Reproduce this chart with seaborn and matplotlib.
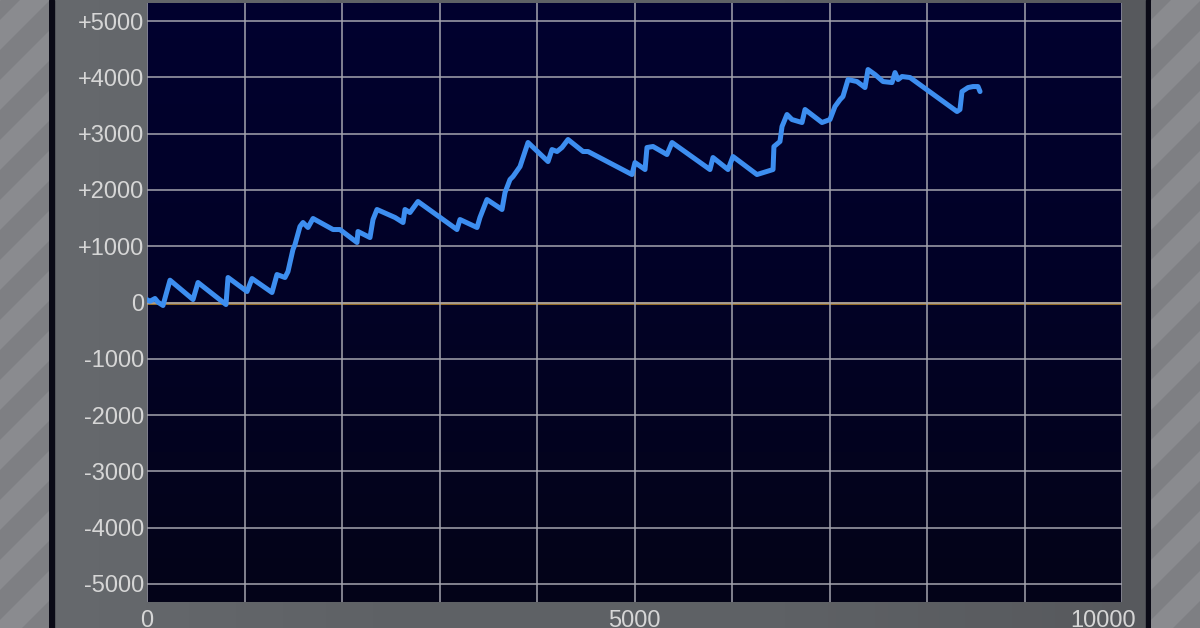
import numpy as np
import pandas as pd
import matplotlib.pyplot as plt
import seaborn as sns
from matplotlib.patches import Rectangle, Polygon
from matplotlib.colors import LinearSegmentedColormap
from matplotlib.transforms import ScaledTranslation

# data
step_x = [0, 31, 82, 113, 164, 195, 236, 472, 523, 810, 831, 1026, 1077, 1282, 1333,
          1415, 1446, 1497, 1518, 1569, 1600, 1651, 1703, 1908, 1979, 2154, 2164, 2287,
          2318, 2359, 2544, 2626, 2646, 2697, 2779, 3179, 3210, 3385, 3415, 3487, 3641,
          3672, 3723, 3754, 3826, 3908, 4113, 4154, 4205, 4256, 4318, 4472, 4523, 4974,
          5005, 5108, 5128, 5190, 5333, 5385, 5774, 5805, 5959, 6010, 6256, 6421, 6430,
          6492, 6513, 6564, 6615, 6718, 6749, 6923, 7005, 7056, 7108, 7138, 7190, 7282,
          7364, 7395, 7467, 7549, 7641, 7672, 7703, 7744, 7826, 8308, 8338, 8359, 8421,
          8472, 8523, 8544]
step_y = [50, 23, 71, 5, -53, 142, 396, 53, 355, -36, 444, 195, 426, 178, 497,
          444, 550, 941, 1030, 1350, 1421, 1332, 1492, 1296, 1296, 1066, 1261, 1154,
          1474, 1652, 1510, 1421, 1652, 1598, 1794, 1296, 1474, 1332, 1510, 1829, 1652,
          1954, 2184, 2238, 2415, 2842, 2504, 2717, 2682, 2753, 2895, 2682, 2682, 2273,
          2486, 2362, 2753, 2771, 2628, 2842, 2362, 2575, 2362, 2593, 2273, 2362, 2770,
          2860, 3126, 3339, 3250, 3197, 3428, 3197, 3250, 3481, 3605, 3659, 3960, 3925,
          3818, 4138, 4049, 3925, 3907, 4085, 3960, 4014, 3996, 3392, 3428, 3747, 3818,
          3836, 3836, 3747]

y_ticks = [5000, 4000, 3000, 2000, 1000, 0, -1000, -2000, -3000, -4000, -5000]
y_labels = ['+5000', '+4000', '+3000', '+2000', '+1000', '0',
            '-1000', '-2000', '-3000', '-4000', '-5000']
x_ticks = [0, 5000, 10000]
x_labels = ['0', '5000', '10000']

df = pd.DataFrame({'game': step_x, 'diff': step_y})

sns.set_style('dark')
plt.rcParams['font.family'] = ['Liberation Sans', 'DejaVu Sans']

fig = plt.figure(figsize=(12, 6.28), dpi=100)

# frame behind everything, in pixel units
bg = fig.add_axes([0, 0, 1, 1], zorder=-10)
bg.set_xlim(0, 1200)
bg.set_ylim(628, 0)
bg.axis('off')
panel = np.linspace(0, 1, 256).reshape(1, -1)
panel_cmap = LinearSegmentedColormap.from_list('pn', ['#66696d', '#5e6165', '#5e6165', '#57595d'])
bg.imshow(panel, extent=[52, 1149, 628, 0], aspect='auto', cmap=panel_cmap)
bg.add_patch(Rectangle((49, 0), 5, 628, color='#0a0a16'))
bg.add_patch(Rectangle((1146, 0), 5, 628, color='#0a0a16'))

# striped side bands
for left, width in [(0, 49), (1151, 49)]:
    sb = fig.add_axes([left / 1200, 0, width / 1200, 1], zorder=-9)
    sb.set_xlim(left, left + width)
    sb.set_ylim(628, 0)
    sb.axis('off')
    sb.add_patch(Rectangle((left, 0), width, 628, color='#7e7f83'))
    for c in range(-100, 800, 60):
        sb.add_patch(Polygon([(left, c), (left, c + 30), (left + width, c + 30 - width),
                              (left + width, c - width)], color='#8a8b8f', lw=0))

ax = fig.add_axes([147 / 1200, 26 / 628, 975 / 1200, 599 / 628])
ylim = (-5320, 5320)
grad = np.linspace(0, 1, 256).reshape(-1, 1)
navy = LinearSegmentedColormap.from_list('nv', ['#01012f', '#020226', '#040418'])
ax.imshow(grad, extent=[0, 10000, ylim[0], ylim[1]], aspect='auto', cmap=navy, zorder=0)

ax.set_xticks(x_ticks)
ax.set_xticklabels(x_labels)
ax.set_xticks(range(0, 10001, 1000), minor=True)
ax.set_yticks(y_ticks)
ax.set_yticklabels(y_labels)
ax.grid(True, which='both', color='#a4a4ae', lw=1.1, zorder=1)
ax.set_axisbelow(False)

ax.axhline(0, color='#b5832a', lw=1.9, zorder=2)
sns.lineplot(data=df, x='game', y='diff', ax=ax, color='#3d8ef0', lw=3.6,
             sort=False, estimator=None, zorder=3)

ax.set_xlim(0, 10000)
ax.set_ylim(*ylim)
ax.set_xlabel('')
ax.set_ylabel('')
for s in ax.spines.values():
    s.set_visible(False)
ax.tick_params(axis='both', which='both', length=0, labelcolor='#d6d6d6', labelsize=17)
ax.tick_params(axis='y', pad=2)
ax.tick_params(axis='x', pad=6)
lab = ax.get_xticklabels()[-1]
lab.set_transform(lab.get_transform() + ScaledTranslation(-0.19, 0, fig.dpi_scale_trans))

fig.savefig('out.png', dpi=100)
